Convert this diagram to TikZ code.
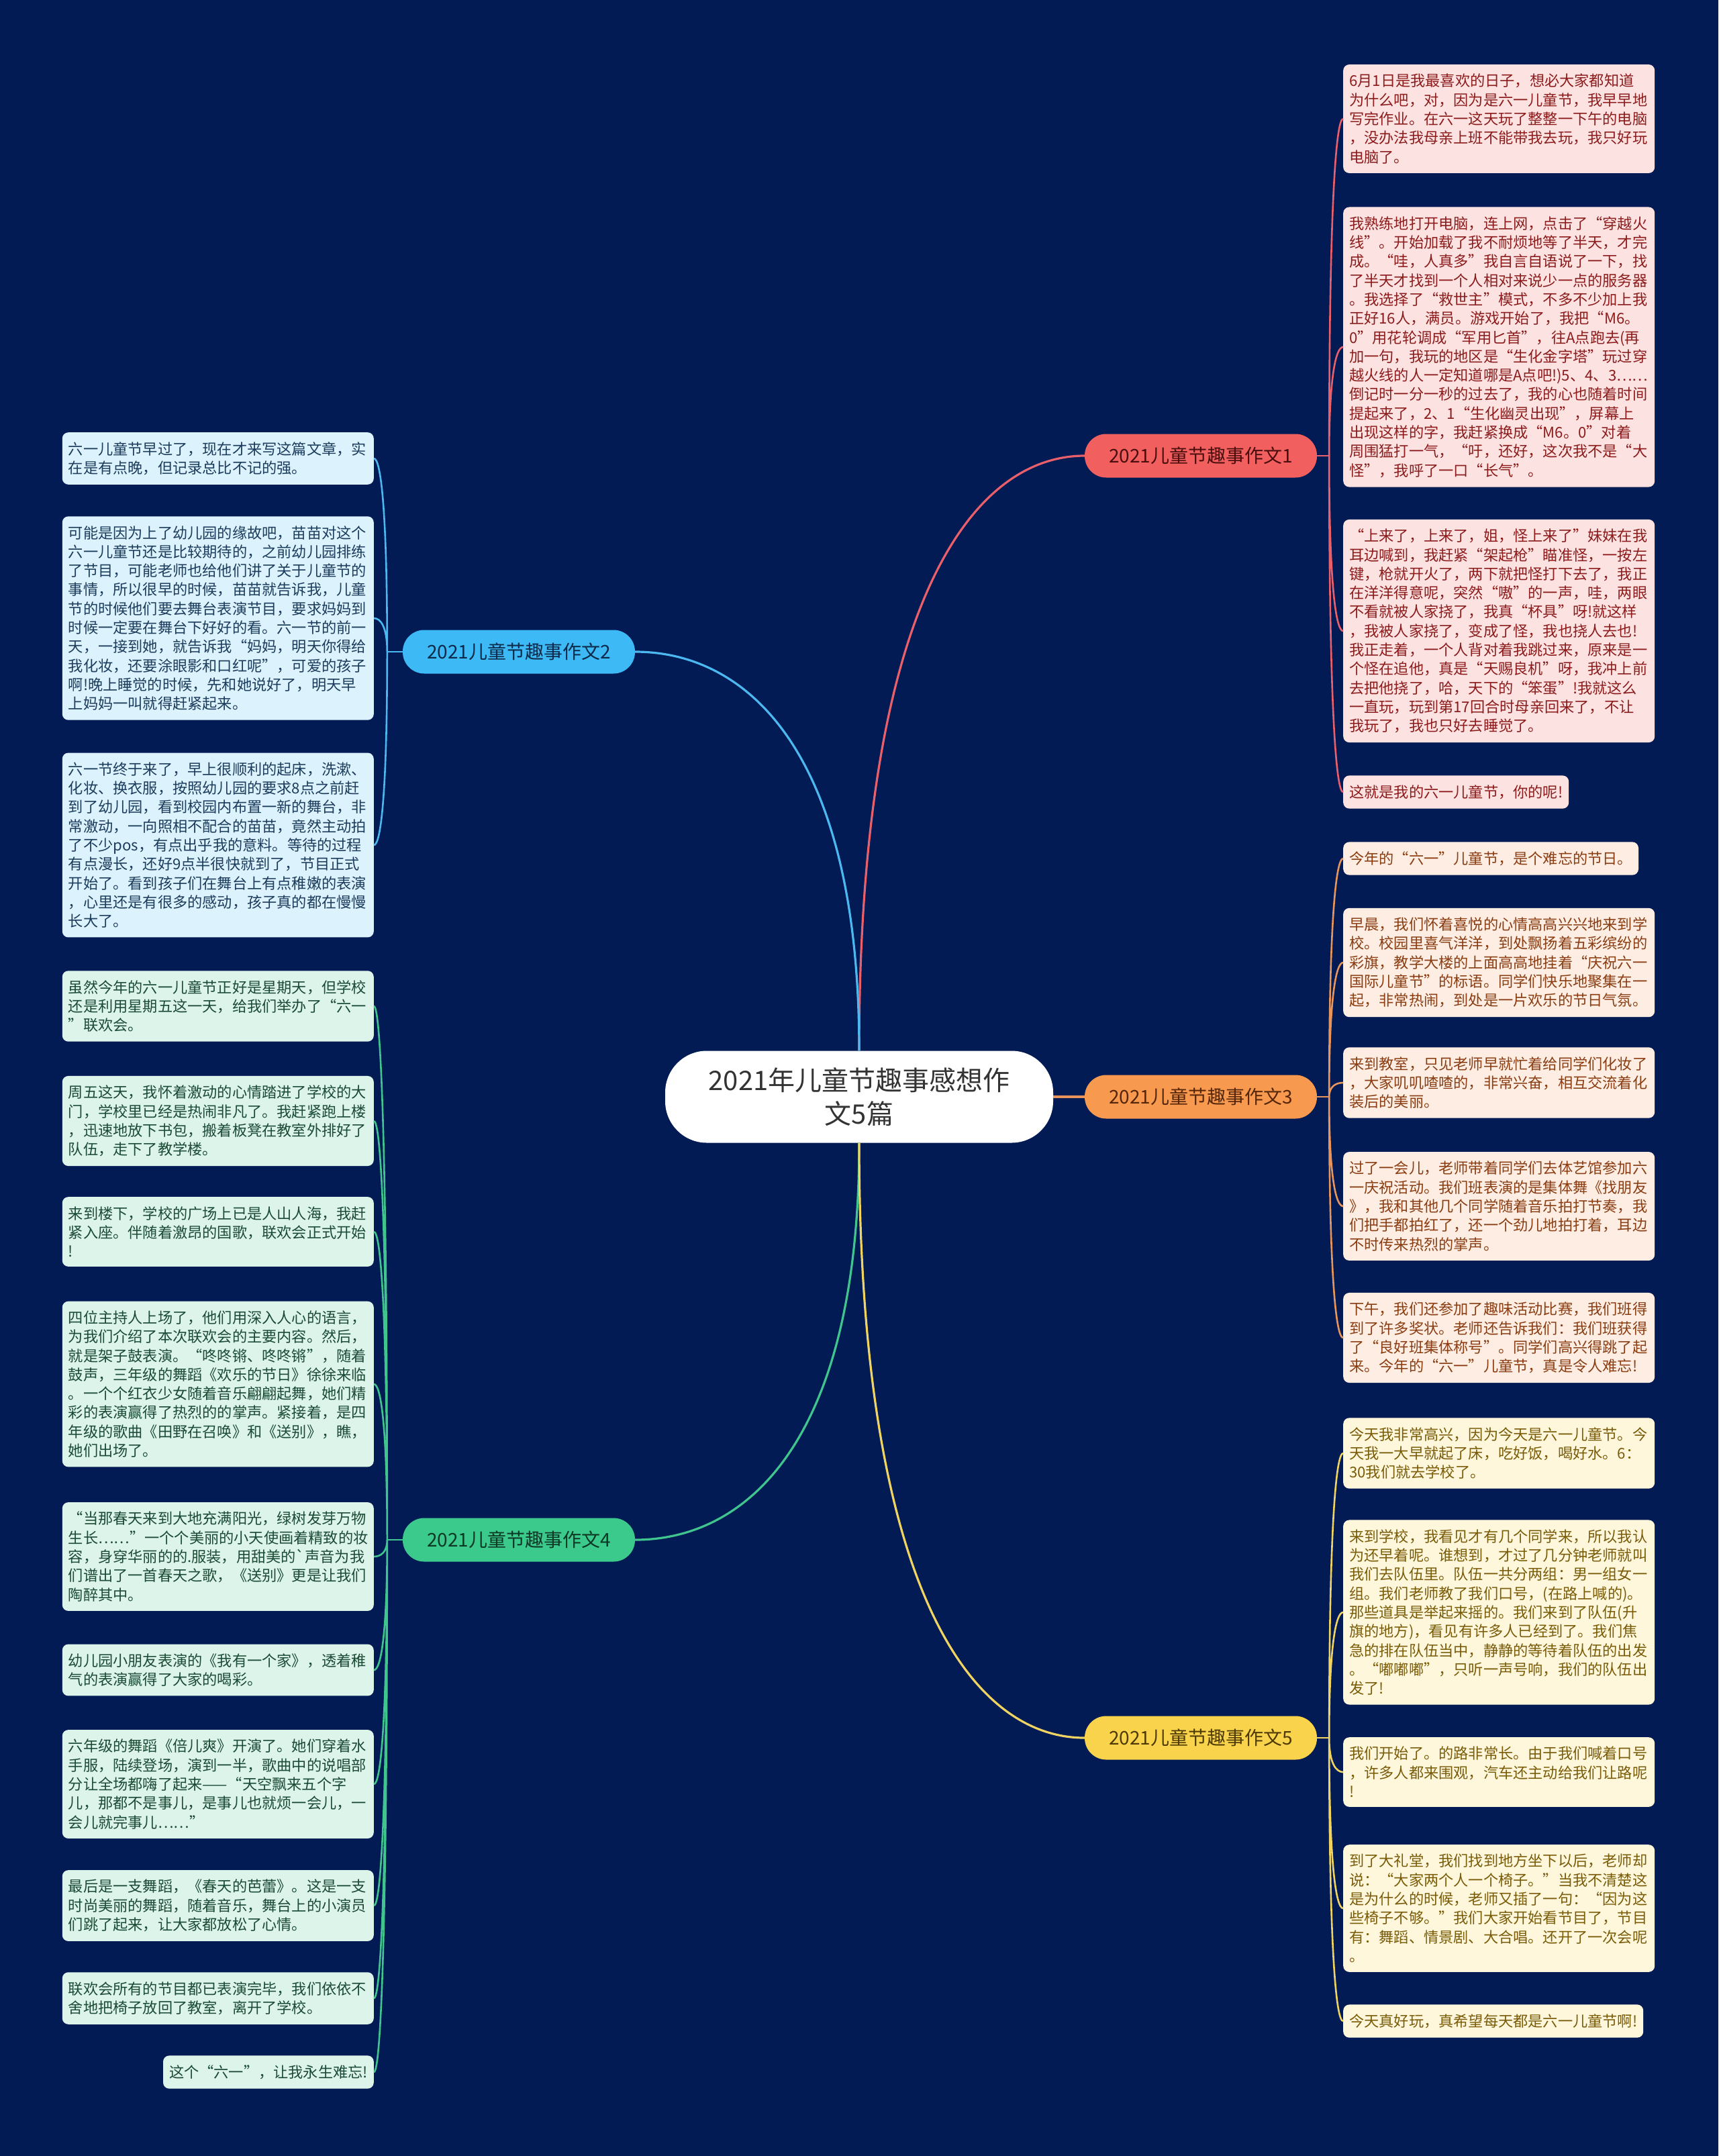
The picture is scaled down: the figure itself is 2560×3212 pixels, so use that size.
\documentclass[tikz,border=0pt]{standalone}
\usepackage{fontspec}
\setmainfont{Noto Sans CJK SC}
\usetikzlibrary{calc}
\definecolor{bgnavy}{HTML}{031B55}
\definecolor{centreink}{HTML}{333333}
\definecolor{redpill}{HTML}{F25F5F}
\definecolor{redline}{HTML}{E9606A}
\definecolor{redfill}{HTML}{FDE2E2}
\definecolor{redink}{HTML}{8C1C1C}
\definecolor{redhead}{HTML}{4A0E0E}
\definecolor{orangepill}{HTML}{F7994F}
\definecolor{orangeline}{HTML}{E8955C}
\definecolor{orangefill}{HTML}{FDEDE2}
\definecolor{orangeink}{HTML}{8A3D12}
\definecolor{orangehead}{HTML}{55260A}
\definecolor{yellowpill}{HTML}{F9D34C}
\definecolor{yellowline}{HTML}{F0D462}
\definecolor{yellowfill}{HTML}{FEF7DC}
\definecolor{yellowink}{HTML}{7A5C08}
\definecolor{yellowhead}{HTML}{4D3A05}
\definecolor{bluepill}{HTML}{3DB9F5}
\definecolor{blueline}{HTML}{4BB8F0}
\definecolor{bluefill}{HTML}{DCF2FD}
\definecolor{blueink}{HTML}{1C3C5C}
\definecolor{bluehead}{HTML}{0D2A4A}
\definecolor{greenpill}{HTML}{3CC98C}
\definecolor{greenline}{HTML}{3FC58D}
\definecolor{greenfill}{HTML}{DCF4EA}
\definecolor{greenink}{HTML}{1B4A36}
\definecolor{greenhead}{HTML}{0D3826}
\tikzset{
  maintopic/.style={fill=white, rounded corners=62pt, minimum width=578pt, minimum height=137pt, align=center, text=centreink, font=\fontsize{40}{50}\selectfont},
  subtopic/.style={rounded corners=32pt, minimum width=346pt, minimum height=65pt, inner sep=0pt, font=\fontsize{28}{34}\selectfont},
  leaf/.style={rounded corners=9pt, inner xsep=9pt, inner ysep=14pt, align=left, font=\fontsize{22.2}{28.3}\selectfont},
  wide/.style={text width=446pt},
  redleaf/.style={leaf, fill=redfill, text=redink},
  orangeleaf/.style={leaf, fill=orangefill, text=orangeink},
  yellowleaf/.style={leaf, fill=yellowfill, text=yellowink},
  blueleaf/.style={leaf, fill=bluefill, text=blueink},
  greenleaf/.style={leaf, fill=greenfill, text=greenink},
  curvelink/.style={to path={let \p1=(\tikztostart), \p2=(\tikztotarget) in
    .. controls (\x1,{\y1+0.75*(\y2-\y1)}) and ({\x1+0.5*(\x2-\x1)},\y2) .. (\tikztotarget)}},
  mainlink/.style={curvelink, line width=3.2pt},
  childlink/.style={curvelink, line width=2.6pt}
}
\begin{document}
\begin{tikzpicture}[x=1pt, y=-1pt]
  \fill[bgnavy] (0,0) rectangle (2560,3212);
  % centre and main topics
  \node[maintopic] (ctr) at (1280,1634) {2021年儿童节趣事感想作\\文5篇};
  \node[subtopic, fill=redpill, text=redhead] (b1) at (1789,679) {2021儿童节趣事作文1};
  \node[subtopic, fill=bluepill, text=bluehead] (b2) at (773,971) {2021儿童节趣事作文2};
  \node[subtopic, fill=orangepill, text=orangehead] (b3) at (1789,1634) {2021儿童节趣事作文3};
  \node[subtopic, fill=greenpill, text=greenhead] (b4) at (773,2294) {2021儿童节趣事作文4};
  \node[subtopic, fill=yellowpill, text=yellowhead] (b5) at (1789,2589) {2021儿童节趣事作文5};
  \draw[redline, mainlink] (ctr.north) to (b1.west);
  \draw[blueline, mainlink] (ctr.north) to (b2.east);
  \draw[orangeline, line width=3.2pt] (ctr.east) -- (b3.west);
  \draw[greenline, mainlink] (ctr.south) to (b4.east);
  \draw[yellowline, mainlink] (ctr.south) to (b5.west);
  % essay 1
  \node[redleaf, wide, anchor=west] (r1a) at (2001,177) {6月1日是我最喜欢的日子，想必大家都知道\\为什么吧，对，因为是六一儿童节，我早早地\\写完作业。在六一这天玩了整整一下午的电脑\\，没办法我母亲上班不能带我去玩，我只好玩\\电脑了。};
  \node[redleaf, wide, anchor=west] (r1b) at (2001,517) {我熟练地打开电脑，连上网，点击了“穿越火\\线”。开始加载了我不耐烦地等了半天，才完\\成。“哇，人真多”我自言自语说了一下，找\\了半天才找到一个人相对来说少一点的服务器\\。我选择了“救世主”模式，不多不少加上我\\正好16人，满员。游戏开始了，我把“M6。\\0”用花轮调成“军用匕首”，往A点跑去(再\\加一句，我玩的地区是“生化金字塔”玩过穿\\越火线的人一定知道哪是A点吧!)5、4、3……\\倒记时一分一秒的过去了，我的心也随着时间\\提起来了，2、1“生化幽灵出现”，屏幕上\\出现这样的字，我赶紧换成“M6。0”对着\\周围猛打一气，“吁，还好，这次我不是“大\\怪”，我呼了一口“长气”。};
  \node[redleaf, wide, anchor=west] (r1c) at (2001,940) {“上来了，上来了，姐，怪上来了”妹妹在我\\耳边喊到，我赶紧“架起枪”瞄准怪，一按左\\键，枪就开火了，两下就把怪打下去了，我正\\在洋洋得意呢，突然“嗷”的一声，哇，两眼\\不看就被人家挠了，我真“杯具”呀!就这样\\，我被人家挠了，变成了怪，我也挠人去也!\\我正走着，一个人背对着我跳过来，原来是一\\个怪在追他，真是“天赐良机”呀，我冲上前\\去把他挠了，哈，天下的“笨蛋”!我就这么\\一直玩，玩到第17回合时母亲回来了，不让\\我玩了，我也只好去睡觉了。};
  \node[redleaf, anchor=west] (r1d) at (2001,1180) {这就是我的六一儿童节，你的呢!};
  \coordinate (j1) at ($(b1.east)+(18,0)$);
  \draw[redline, line width=2.6pt] (b1.east) -- (j1);
  \draw[redline, childlink] (j1) to (r1a.west) (j1) to (r1b.west) (j1) to (r1c.west) (j1) to (r1d.west);
  % essay 3
  \node[orangeleaf, anchor=west] (r3a) at (2001,1279) {今年的“六一”儿童节，是个难忘的节日。};
  \node[orangeleaf, wide, anchor=west] (r3b) at (2001,1434) {早晨，我们怀着喜悦的心情高高兴兴地来到学\\校。校园里喜气洋洋，到处飘扬着五彩缤纷的\\彩旗，教学大楼的上面高高地挂着“庆祝六一\\国际儿童节”的标语。同学们快乐地聚集在一\\起，非常热闹，到处是一片欢乐的节日气氛。};
  \node[orangeleaf, wide, anchor=west] (r3c) at (2001,1613) {来到教室，只见老师早就忙着给同学们化妆了\\，大家叽叽喳喳的，非常兴奋，相互交流着化\\装后的美丽。};
  \node[orangeleaf, wide, anchor=west] (r3d) at (2001,1797) {过了一会儿，老师带着同学们去体艺馆参加六\\一庆祝活动。我们班表演的是集体舞《找朋友\\》，我和其他几个同学随着音乐拍打节奏，我\\们把手都拍红了，还一个劲儿地拍打着，耳边\\不时传来热烈的掌声。};
  \node[orangeleaf, wide, anchor=west] (r3e) at (2001,1993) {下午，我们还参加了趣味活动比赛，我们班得\\到了许多奖状。老师还告诉我们：我们班获得\\了“良好班集体称号”。同学们高兴得跳了起\\来。今年的“六一”儿童节，真是令人难忘!};
  \coordinate (j3) at ($(b3.east)+(18,0)$);
  \draw[orangeline, line width=2.6pt] (b3.east) -- (j3);
  \draw[orangeline, childlink] (j3) to (r3a.west) (j3) to (r3b.west) (j3) to (r3c.west) (j3) to (r3d.west) (j3) to (r3e.west);
  % essay 5
  \node[yellowleaf, wide, anchor=west] (r5a) at (2001,2165) {今天我非常高兴，因为今天是六一儿童节。今\\天我一大早就起了床，吃好饭，喝好水。6：\\30我们就去学校了。};
  \node[yellowleaf, wide, anchor=west] (r5b) at (2001,2402) {来到学校，我看见才有几个同学来，所以我认\\为还早着呢。谁想到，才过了几分钟老师就叫\\我们去队伍里。队伍一共分两组：男一组女一\\组。我们老师教了我们口号，(在路上喊的)。\\那些道具是举起来摇的。我们来到了队伍(升\\旗的地方)，看见有许多人已经到了。我们焦\\急的排在队伍当中，静静的等待着队伍的出发\\。“嘟嘟嘟”，只听一声号响，我们的队伍出\\发了!};
  \node[yellowleaf, wide, anchor=west] (r5c) at (2001,2640) {我们开始了。的路非常长。由于我们喊着口号\\，许多人都来围观，汽车还主动给我们让路呢\\!};
  \node[yellowleaf, wide, anchor=west] (r5d) at (2001,2843) {到了大礼堂，我们找到地方坐下以后，老师却\\说：“大家两个人一个椅子。”当我不清楚这\\是为什么的时候，老师又插了一句：“因为这\\些椅子不够。”我们大家开始看节目了，节目\\有：舞蹈、情景剧、大合唱。还开了一次会呢\\。};
  \node[yellowleaf, anchor=west] (r5e) at (2001,3011) {今天真好玩，真希望每天都是六一儿童节啊!};
  \coordinate (j5) at ($(b5.east)+(18,0)$);
  \draw[yellowline, line width=2.6pt] (b5.east) -- (j5);
  \draw[yellowline, childlink] (j5) to (r5a.west) (j5) to (r5b.west) (j5) to (r5c.west) (j5) to (r5d.west) (j5) to (r5e.west);
  % essay 2
  \node[blueleaf, wide, anchor=east] (l2a) at (557,683) {六一儿童节早过了，现在才来写这篇文章，实\\在是有点晚，但记录总比不记的强。};
  \node[blueleaf, wide, anchor=east] (l2b) at (557,921) {可能是因为上了幼儿园的缘故吧，苗苗对这个\\六一儿童节还是比较期待的，之前幼儿园排练\\了节目，可能老师也给他们讲了关于儿童节的\\事情，所以很早的时候，苗苗就告诉我，儿童\\节的时候他们要去舞台表演节目，要求妈妈到\\时候一定要在舞台下好好的看。六一节的前一\\天，一接到她，就告诉我“妈妈，明天你得给\\我化妆，还要涂眼影和口红呢”，可爱的孩子\\啊!晚上睡觉的时候，先和她说好了，明天早\\上妈妈一叫就得赶紧起来。};
  \node[blueleaf, wide, anchor=east] (l2c) at (557,1259) {六一节终于来了，早上很顺利的起床，洗漱、\\化妆、换衣服，按照幼儿园的要求8点之前赶\\到了幼儿园，看到校园内布置一新的舞台，非\\常激动，一向照相不配合的苗苗，竟然主动拍\\了不少pos，有点出乎我的意料。等待的过程\\有点漫长，还好9点半很快就到了，节目正式\\开始了。看到孩子们在舞台上有点稚嫩的表演\\，心里还是有很多的感动，孩子真的都在慢慢\\长大了。};
  \coordinate (j2) at ($(b2.west)+(-23,0)$);
  \draw[blueline, line width=2.6pt] (b2.west) -- (j2);
  \draw[blueline, childlink] (j2) to (l2a.east) (j2) to (l2b.east) (j2) to (l2c.east);
  % essay 4
  \node[greenleaf, wide, anchor=east] (l4a) at (557,1499) {虽然今年的六一儿童节正好是星期天，但学校\\还是利用星期五这一天，给我们举办了“六一\\”联欢会。};
  \node[greenleaf, wide, anchor=east] (l4b) at (557,1670) {周五这天，我怀着激动的心情踏进了学校的大\\门，学校里已经是热闹非凡了。我赶紧跑上楼\\，迅速地放下书包，搬着板凳在教室外排好了\\队伍，走下了教学楼。};
  \node[greenleaf, wide, anchor=east] (l4c) at (557,1835) {来到楼下，学校的广场上已是人山人海，我赶\\紧入座。伴随着激昂的国歌，联欢会正式开始\\!};
  \node[greenleaf, wide, anchor=east] (l4d) at (557,2062) {四位主持人上场了，他们用深入人心的语言，\\为我们介绍了本次联欢会的主要内容。然后，\\就是架子鼓表演。“咚咚锵、咚咚锵”，随着\\鼓声，三年级的舞蹈《欢乐的节日》徐徐来临\\。一个个红衣少女随着音乐翩翩起舞，她们精\\彩的表演赢得了热烈的的掌声。紧接着，是四\\年级的歌曲《田野在召唤》和《送别》，瞧，\\她们出场了。};
  \node[greenleaf, wide, anchor=east] (l4e) at (557,2319) {“当那春天来到大地充满阳光，绿树发芽万物\\生长……”一个个美丽的小天使画着精致的妆\\容，身穿华丽的的.服装，用甜美的\textasciigrave 声音为我\\们谱出了一首春天之歌，《送别》更是让我们\\陶醉其中。};
  \node[greenleaf, wide, anchor=east] (l4f) at (557,2488) {幼儿园小朋友表演的《我有一个家》，透着稚\\气的表演赢得了大家的喝彩。};
  \node[greenleaf, wide, anchor=east] (l4g) at (557,2658) {六年级的舞蹈《倍儿爽》开演了。她们穿着水\\手服，陆续登场，演到一半，歌曲中的说唱部\\分让全场都嗨了起来——“天空飘来五个字\\儿，那都不是事儿，是事儿也就烦一会儿，一\\会儿就完事儿……”};
  \node[greenleaf, wide, anchor=east] (l4h) at (557,2839) {最后是一支舞蹈，《春天的芭蕾》。这是一支\\时尚美丽的舞蹈，随着音乐，舞台上的小演员\\们跳了起来，让大家都放松了心情。};
  \node[greenleaf, wide, anchor=east] (l4i) at (557,2977) {联欢会所有的节目都已表演完毕，我们依依不\\舍地把椅子放回了教室，离开了学校。};
  \node[greenleaf, anchor=east] (l4j) at (557,3087) {这个“六一”，让我永生难忘!};
  \coordinate (j4) at ($(b4.west)+(-23,0)$);
  \draw[greenline, line width=2.6pt] (b4.west) -- (j4);
  \draw[greenline, childlink] (j4) to (l4a.east) (j4) to (l4b.east) (j4) to (l4c.east) (j4) to (l4d.east) (j4) to (l4e.east) (j4) to (l4f.east) (j4) to (l4g.east) (j4) to (l4h.east) (j4) to (l4i.east) (j4) to (l4j.east);
\end{tikzpicture}
\end{document}
